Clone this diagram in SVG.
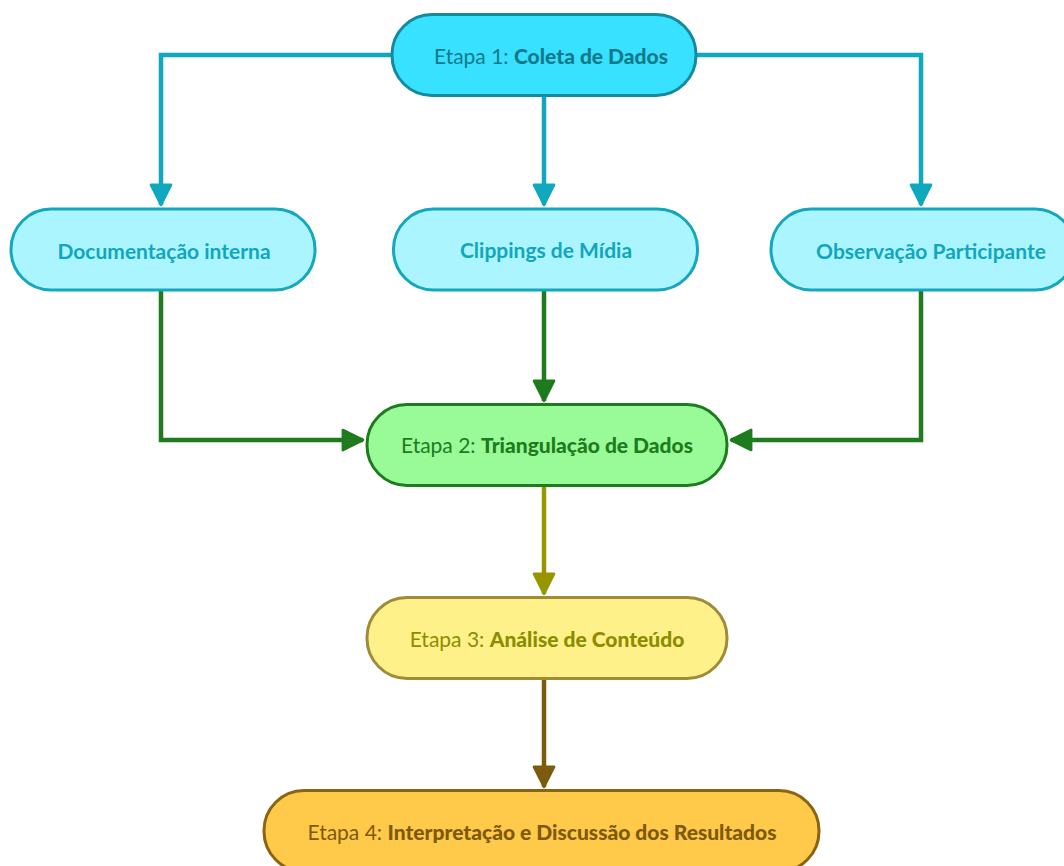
<svg xmlns="http://www.w3.org/2000/svg" width="1064" height="866" viewBox="0 0 1064 866">
<defs>
<style>
.t{font-family:"Lato","Open Sans","DejaVu Sans",sans-serif;font-size:21px;text-anchor:middle;dominant-baseline:central}
.b{font-weight:700}
.k{font-weight:900}
.n{font-weight:400}
.box{stroke-width:3}
.ln{fill:none;stroke-width:4.5;stroke-linejoin:miter}
</style>
<marker id="aC" viewBox="0 0 10 10" refX="9" refY="5" markerWidth="5.6" markerHeight="5.6" orient="auto" markerUnits="strokeWidth"><path d="M1,1 L9,5 L1,9 Z" fill="#10a8bf" stroke="#10a8bf" stroke-linejoin="round"/></marker>
<marker id="aG" viewBox="0 0 10 10" refX="9" refY="5" markerWidth="5.6" markerHeight="5.6" orient="auto" markerUnits="strokeWidth"><path d="M1,1 L9,5 L1,9 Z" fill="#1e7b1e" stroke="#1e7b1e" stroke-linejoin="round"/></marker>
<marker id="aO" viewBox="0 0 10 10" refX="9" refY="5" markerWidth="5.6" markerHeight="5.6" orient="auto" markerUnits="strokeWidth"><path d="M1,1 L9,5 L1,9 Z" fill="#979600" stroke="#979600" stroke-linejoin="round"/></marker>
<marker id="aB" viewBox="0 0 10 10" refX="9" refY="5" markerWidth="5.6" markerHeight="5.6" orient="auto" markerUnits="strokeWidth"><path d="M1,1 L9,5 L1,9 Z" fill="#7d5a0c" stroke="#7d5a0c" stroke-linejoin="round"/></marker>
</defs>
<rect width="1064" height="866" fill="#ffffff"/>
<g id="connectors">
<path class="ln" d="M391,55 H161 V205" stroke="#10a8bf" marker-end="url(#aC)"/>
<path class="ln" d="M544,96 V205" stroke="#10a8bf" marker-end="url(#aC)"/>
<path class="ln" d="M697,55 H921 V205" stroke="#10a8bf" marker-end="url(#aC)"/>
<path class="ln" d="M161,291 V440 H363" stroke="#1e7b1e" marker-end="url(#aG)"/>
<path class="ln" d="M544,291 V401" stroke="#1e7b1e" marker-end="url(#aG)"/>
<path class="ln" d="M921,291 V440 H731" stroke="#1e7b1e" marker-end="url(#aG)"/>
<path class="ln" d="M544,486 V594" stroke="#979600" marker-end="url(#aO)"/>
<path class="ln" d="M544,679 V787" stroke="#7d5a0c" marker-end="url(#aB)"/>
</g>
<g id="etapa1">
<rect class="box" x="392" y="14.5" width="304" height="81" rx="40" fill="#38e1ff" stroke="#148a9e"/>
<text class="t" x="551" y="55" fill="#137a8c"><tspan class="n">Etapa 1: </tspan><tspan class="k">Coleta de Dados</tspan></text>
</g>
<g id="doc">
<rect class="box" x="11" y="209" width="304" height="81" rx="40" fill="#aaf5ff" stroke="#14a7be"/>
<text class="t b" x="164" y="250" fill="#12a6bd">Documentação interna</text>
</g>
<g id="clip">
<rect class="box" x="393.5" y="209" width="304" height="81" rx="40" fill="#aaf5ff" stroke="#14a7be"/>
<text class="t b" x="546" y="249" fill="#12a6bd">Clippings de Mídia</text>
</g>
<g id="obs">
<rect class="box" x="771" y="209" width="304" height="81" rx="40" fill="#aaf5ff" stroke="#14a7be"/>
<text class="t b" x="931" y="250" fill="#12a6bd">Observação Participante</text>
</g>
<g id="etapa2">
<rect class="box" x="367" y="404.5" width="360" height="81" rx="40" fill="#98fb98" stroke="#1e7b1e"/>
<text class="t" x="547" y="444" fill="#1e7b1e"><tspan class="n">Etapa 2: </tspan><tspan class="k">Triangulação de Dados</tspan></text>
</g>
<g id="etapa3">
<rect class="box" x="367" y="597.5" width="360" height="81" rx="40" fill="#fff18a" stroke="#a08c38"/>
<text class="t" x="547" y="638" fill="#8c8c00"><tspan class="n">Etapa 3: </tspan><tspan class="k">Análise de Conteúdo</tspan></text>
</g>
<g id="etapa4">
<rect class="box" x="264" y="790.5" width="555" height="81" rx="40" fill="#ffc94a" stroke="#8a6410"/>
<text class="t" x="542" y="831" fill="#7d5a0c"><tspan class="n">Etapa 4: </tspan><tspan class="k">Interpretação e Discussão dos Resultados</tspan></text>
</g>
</svg>
